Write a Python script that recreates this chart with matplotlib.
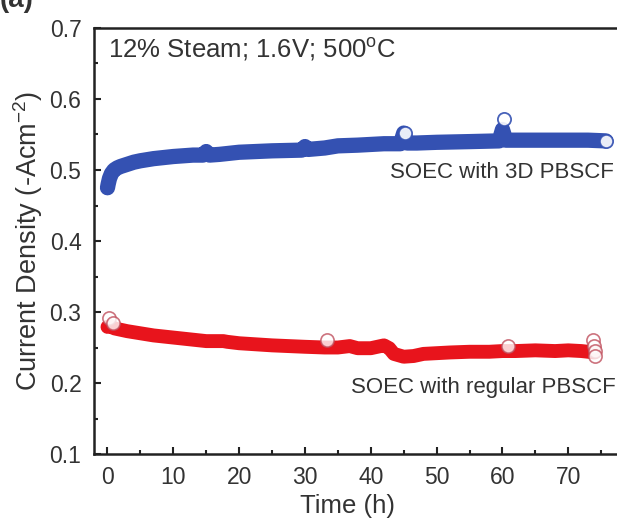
import matplotlib
matplotlib.use("Agg")
import matplotlib.pyplot as plt
from matplotlib.ticker import MultipleLocator

plt.rcParams['font.family'] = ['Liberation Sans', 'DejaVu Sans']
plt.rcParams['mathtext.fontset'] = 'custom'
plt.rcParams['mathtext.rm'] = 'Liberation Sans'
plt.rcParams['mathtext.it'] = 'Liberation Sans:italic'
plt.rcParams['mathtext.default'] = 'regular'

# SOEC with 3D PBSCF
blue_t = [0, 0.1, 0.3, 0.6, 1, 1.5, 2, 3, 4, 5, 7, 10, 13, 14.5, 15, 15.5, 17, 20, 25,
          29.5, 30, 30.5, 33, 35, 38, 40, 42, 44.5, 45, 45.5, 47, 50, 55, 59.5, 60,
          60.5, 63, 65, 68, 70, 73, 75.7]
blue_v = [0.475, 0.480, 0.488, 0.495, 0.500, 0.503, 0.505, 0.508, 0.511, 0.513, 0.516,
          0.519, 0.521, 0.521, 0.526, 0.521, 0.522, 0.525, 0.527, 0.528, 0.533, 0.529,
          0.531, 0.534, 0.535, 0.536, 0.537, 0.537, 0.552, 0.538, 0.538, 0.539, 0.540,
          0.541, 0.557, 0.542, 0.542, 0.542, 0.542, 0.542, 0.542, 0.541]
blue_out_t = [45.2, 60.2, 75.7]
blue_out_v = [0.552, 0.572, 0.541]

# SOEC with regular PBSCF
red_t = [0, 0.5, 1, 2, 3, 5, 7, 10, 13, 15, 17.6, 18.2, 20, 25, 30, 33, 35, 36.8, 38,
         40, 42, 42.8, 43.5, 45, 46.5, 48, 50, 52, 55, 58, 60, 62, 65, 68, 70, 72, 74]
red_v = [0.279, 0.280, 0.277, 0.275, 0.273, 0.270, 0.267, 0.264, 0.261, 0.259, 0.259,
         0.258, 0.256, 0.253, 0.251, 0.250, 0.250, 0.252, 0.249, 0.249, 0.253, 0.249,
         0.241, 0.237, 0.238, 0.241, 0.242, 0.243, 0.244, 0.244, 0.245, 0.245, 0.246,
         0.245, 0.246, 0.245, 0.243]
red_out_t = [0.2, 0.8, 33.3, 60.8, 73.8, 73.9, 74.0, 74.1]
red_out_v = [0.292, 0.285, 0.260, 0.2525, 0.260, 0.2525, 0.245, 0.238]

blue = '#3451b2'
red = '#e8141c'
txt = '#333333'

fig = plt.figure(figsize=(6.17, 5.2), dpi=100)
ax = fig.add_axes([94 / 617, 1 - 454 / 520, 1 - 94 / 617, (454 - 28) / 520])

ax.plot(blue_t, blue_v, color=blue, lw=11, solid_capstyle='round', solid_joinstyle='round')
ax.plot(blue_out_t, blue_out_v, 'o', ms=9.5, mfc='white', mec=blue, mew=1.3, alpha=0.9)
ax.plot(red_t, red_v, color=red, lw=10, solid_capstyle='round', solid_joinstyle='round')
ax.plot(red_out_t, red_out_v, 'o', ms=9.5, mfc='white', mec='#c0505e', mew=1.2, alpha=0.8)

ax.set_xlim(-2.05, 77.4)
ax.set_ylim(0.1, 0.7)
ax.xaxis.set_major_locator(MultipleLocator(10))
ax.xaxis.set_minor_locator(MultipleLocator(5))
ax.yaxis.set_major_locator(MultipleLocator(0.1))
ax.yaxis.set_minor_locator(MultipleLocator(0.05))
ax.tick_params(which='both', direction='in', width=1.5, color='#222222',
               labelsize=16.5, labelcolor=txt, top=False, right=False)
ax.tick_params(which='major', length=5, pad=9)
ax.tick_params(which='minor', length=3)

for s in ['left', 'bottom', 'top']:
    ax.spines[s].set_linewidth(1.8)
    ax.spines[s].set_color('#222222')
ax.spines['right'].set_visible(False)

ax.set_xlabel('Time (h)', fontsize=18.5, color=txt)
ax.xaxis.set_label_coords(0.485, -0.095, transform=ax.transAxes)
ax.set_ylabel('Current Density (-Acm$^{-2}$)', fontsize=19.5, color=txt, labelpad=3)

ax.text(0.1, 0.670, '12% Steam; 1.6V; 500$^{o}$C', fontsize=18.5, color=txt,
        ha='left', va='center')
ax.text(76.9, 0.4965, 'SOEC with 3D PBSCF', fontsize=16, color=txt,
        ha='right', va='center')
ax.text(77.2, 0.193, 'SOEC with regular PBSCF', fontsize=16, color=txt,
        ha='right', va='center')

fig.text(0.0, 1 - 13 / 520, '(a)', fontsize=20, color=txt, fontweight='bold',
         ha='left', va='bottom')

fig.savefig('out.png', dpi=100)
